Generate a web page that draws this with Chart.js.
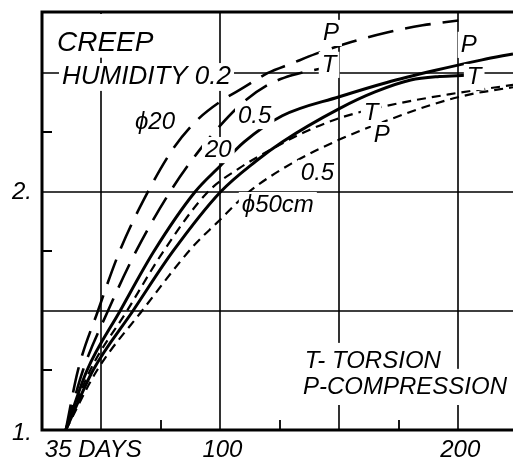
<!DOCTYPE html>
<html>
<head>
<meta charset="utf-8">
<script src="https://cdn.jsdelivr.net/npm/chart.js@4"></script>
<style>
  html, body { margin: 0; padding: 0; background: #fff; }
  canvas { display: block; }
</style>
</head>
<body>
<canvas id="creep" width="513" height="461"></canvas>
<script>
// creep curves, days after loading vs. relative creep
const longPDays = [35, 40.1, 48.5, 58, 69.5, 80, 90, 100, 110, 120, 130, 140, 155, 170, 185, 200];
const longPVals = [1.0, 1.25, 1.5, 1.76, 2.0, 2.18, 2.3, 2.38, 2.44, 2.5, 2.54, 2.58, 2.63, 2.67, 2.7, 2.72];

const longTDays = [35, 42.2, 52.7, 65, 78.8, 90, 100, 110, 120, 130, 143];
const longTVals = [1.0, 1.25, 1.5, 1.76, 2.0, 2.16, 2.28, 2.38, 2.45, 2.49, 2.52];

const solidPDays = [35, 43.9, 57.8, 72, 89.3, 100, 110, 126, 150, 170, 190, 210, 223];
const solidPVals = [1.0, 1.25, 1.5, 1.75, 2.0, 2.11, 2.21, 2.32, 2.4, 2.46, 2.51, 2.555, 2.58];

const solidTDays = [35, 46.4, 63.2, 80, 100, 115, 126, 150, 165, 180, 192, 203];
const solidTVals = [1.0, 1.25, 1.5, 1.75, 2.0, 2.13, 2.21, 2.35, 2.42, 2.47, 2.485, 2.49];

const shortTDays = [35, 45.2, 60.7, 76, 94.7, 108, 121.6, 135, 150, 169, 196, 223];
const shortTVals = [1.0, 1.25, 1.5, 1.75, 2.0, 2.1, 2.18, 2.25, 2.31, 2.36, 2.41, 2.45];

const shortPDays = [35, 48.1, 67, 88.4, 98.5, 112, 130, 150, 170, 190, 205, 223];
const shortPVals = [1.0, 1.25, 1.5, 1.77, 1.87, 2.0, 2.12, 2.22, 2.3, 2.37, 2.41, 2.44];

const xGrid = [50, 100, 150, 200];
const xMinor = [75, 125, 175];
const yGrid = [1.5, 2.0, 2.5];
const yMinor = [1.25, 1.75, 2.25];

const xTickValues = [35, 100, 200];
const xTickText = ["35 DAYS", "100", "200"];
const yTickValues = [1, 2];
const yTickText = ["1.", "2."];

const FONT = "'Liberation Sans', Arial, sans-serif";

function pts(days, vals) {
  return days.map((d, i) => ({ x: d, y: vals[i] }));
}

function curve(label, days, vals, dash, width) {
  return {
    label,
    data: pts(days, vals),
    borderColor: "#000",
    borderWidth: width,
    borderDash: dash,
    pointRadius: 0,
    fill: false,
    cubicInterpolationMode: "monotone"
  };
}

// notes in data units (day, value), left aligned, vertically centred
const notes = [
  { t: "CREEP", d: 31.3, v: 2.626, size: 28, up: true },
  { t: "HUMIDITY 0.2", d: 33.4, v: 2.483, size: 26 },
  { t: "\u03d520", d: 64.1, v: 2.294, size: 24 },
  { t: "0.5", d: 107.4, v: 2.319, size: 24 },
  { t: "20", d: 93.5, v: 2.176, size: 24 },
  { t: "0.5", d: 133.8, v: 2.08, size: 24 },
  { t: "\u03d550cm", d: 109, v: 1.945, size: 24 },
  { t: "P", d: 143.1, v: 2.668, size: 24 },
  { t: "T", d: 142.6, v: 2.534, size: 24 },
  { t: "P", d: 201, v: 2.618, size: 24 },
  { t: "T", d: 203.6, v: 2.483, size: 24 },
  { t: "T", d: 160.3, v: 2.332, size: 24 },
  { t: "P", d: 164.5, v: 2.239, size: 24 },
  { t: "T- TORSION", d: 135.5, v: 1.29, size: 24, pad: 8 },
  { t: "P-COMPRESSION", d: 134.7, v: 1.181, size: 24, pad: 8 }
];

const creepPlugin = {
  id: "creepFrame",
  beforeDatasetsDraw(chart) {
    const { ctx, chartArea: a, scales: { x, y } } = chart;
    ctx.save();
    ctx.strokeStyle = "#000";
    ctx.lineWidth = 1.6;
    ctx.beginPath();
    xGrid.forEach(v => {
      const px = Math.round(x.getPixelForValue(v));
      ctx.moveTo(px, a.top); ctx.lineTo(px, a.bottom);
    });
    yGrid.forEach(v => {
      const py = Math.round(y.getPixelForValue(v));
      ctx.moveTo(a.left, py); ctx.lineTo(a.right, py);
    });
    ctx.stroke();
    ctx.lineWidth = 1.8;
    ctx.beginPath();
    xMinor.forEach(v => {
      const px = Math.round(x.getPixelForValue(v));
      ctx.moveTo(px, a.bottom); ctx.lineTo(px, a.bottom - 10);
    });
    yMinor.forEach(v => {
      const py = Math.round(y.getPixelForValue(v));
      ctx.moveTo(a.left, py); ctx.lineTo(a.left + 10, py);
    });
    ctx.stroke();
    ctx.restore();
  },
  afterDatasetsDraw(chart) {
    const { ctx, chartArea: a, scales: { x, y } } = chart;
    ctx.save();
    ctx.textBaseline = "middle";
    ctx.textAlign = "left";
    notes.forEach(n => {
      ctx.font = "italic " + n.size + "px " + FONT;
      const px = x.getPixelForValue(n.d);
      const py = y.getPixelForValue(n.v);
      const w = ctx.measureText(n.t).width;
      const pad = n.pad || 3;
      const h = n.size * 0.42;
      const top = n.up ? a.top + 2 : py - h - pad;
      ctx.fillStyle = "#fff";
      ctx.fillRect(px - pad, top, w + 2 * pad, py + h + pad - top);
      ctx.fillStyle = "#000";
      ctx.fillText(n.t, px, py);
    });
    ctx.restore();
  },
  afterDraw(chart) {
    const { ctx, chartArea: a, scales: { x, y } } = chart;
    ctx.save();
    ctx.strokeStyle = "#000";
    ctx.lineWidth = 3;
    ctx.beginPath();
    ctx.moveTo(a.right, a.top);
    ctx.lineTo(a.left, a.top);
    ctx.lineTo(a.left, a.bottom);
    ctx.lineTo(a.right, a.bottom);
    ctx.stroke();

    ctx.fillStyle = "#000";
    ctx.font = "italic 24px " + FONT;
    ctx.textBaseline = "middle";
    xTickValues.forEach((v, i) => {
      const px = x.getPixelForValue(v);
      if (i === 0) {
        ctx.textAlign = "left";
        ctx.fillText(xTickText[i], px - 21, a.bottom + 20);
      } else {
        ctx.textAlign = "center";
        ctx.fillText(xTickText[i], px + 2, a.bottom + 20);
      }
    });
    ctx.textAlign = "right";
    yTickValues.forEach((v, i) => {
      const py = y.getPixelForValue(v);
      ctx.fillText(yTickText[i], a.left - 10, py + (i === 0 ? 3 : 0));
    });
    ctx.restore();
  }
};

new Chart(document.getElementById("creep").getContext("2d"), {
  type: "line",
  data: {
    datasets: [
      curve("P 0.2 \u03d520", longPDays, longPVals, [26, 12], 2.6),
      curve("T 0.2 \u03d520", longTDays, longTVals, [26, 12], 2.6),
      curve("P 0.5 \u03d520", solidPDays, solidPVals, [], 3),
      curve("T 0.5 \u03d520", solidTDays, solidTVals, [], 3),
      curve("T 0.5 \u03d550", shortTDays, shortTVals, [9, 6], 2.2),
      curve("P 0.5 \u03d550", shortPDays, shortPVals, [9, 6], 2.2)
    ]
  },
  options: {
    responsive: false,
    animation: false,
    events: [],
    layout: { padding: { left: 42, top: 12, right: 0, bottom: 31 } },
    plugins: { legend: { display: false }, tooltip: { enabled: false } },
    scales: {
      x: { type: "linear", min: 25, max: 223, display: false },
      y: { type: "linear", min: 1, max: 2.756, display: false }
    }
  },
  plugins: [creepPlugin]
});
</script>
</body>
</html>
